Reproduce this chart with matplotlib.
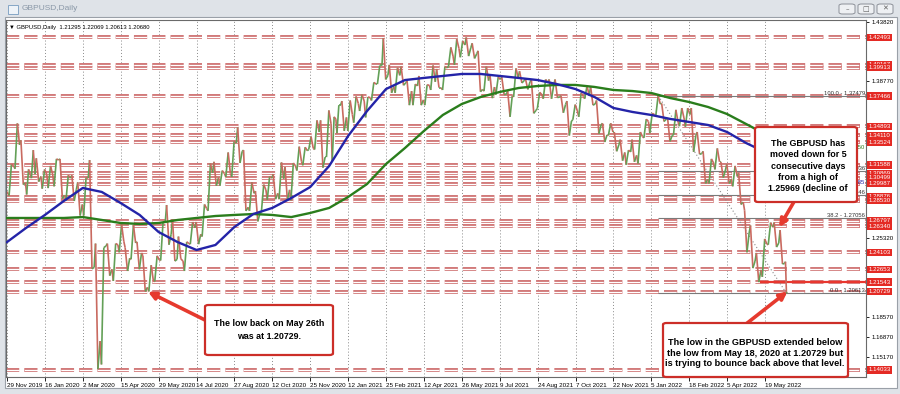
import numpy as np
import pandas as pd
import matplotlib
matplotlib.use('Agg')
import matplotlib.pyplot as plt
from matplotlib.patches import FancyBboxPatch, Rectangle
from matplotlib.collections import LineCollection

plt.rcParams['font.family'] = ['Liberation Sans', 'DejaVu Sans']

# trading calendar of the chart (weekdays, no Christmas / New Year bars)
bars = pd.bdate_range('2019-11-29', '2022-06-14')
bars = bars[~(((bars.month == 12) & (bars.day == 25)) | ((bars.month == 1) & (bars.day == 1)))]

first_close = 1.2930
week_start = pd.date_range('2019-12-02', periods=133, freq='7D')
wk_high = [1.3165, 1.3514, 1.3370, 1.3120, 1.3285, 1.3215, 1.3120, 1.3150, 1.3210, 1.3210,
           1.3070, 1.3070, 1.3010, 1.3050, 1.3200, 1.2485, 1.2450, 1.2485, 1.2485, 1.2650,
           1.2450, 1.2645, 1.2500, 1.2380, 1.2300, 1.2380, 1.2670, 1.2815, 1.2690, 1.2545,
           1.2500, 1.2670, 1.2670, 1.2820, 1.3170, 1.3185, 1.3110, 1.3265, 1.3360, 1.3480,
           1.3285, 1.3010, 1.2935, 1.2990, 1.3060, 1.3080, 1.3180, 1.3140, 1.3175, 1.3315,
           1.3310, 1.3400, 1.3540, 1.3540, 1.3625, 1.3570, 1.3670, 1.3705, 1.3710, 1.3745,
           1.3760, 1.3740, 1.3865, 1.4010, 1.4245, 1.4015, 1.3990, 1.4000, 1.3880, 1.3850,
           1.3920, 1.3845, 1.4010, 1.3980, 1.4000, 1.4165, 1.4235, 1.4220, 1.4250, 1.4200,
           1.4135, 1.4000, 1.3935, 1.3910, 1.3910, 1.3790, 1.3985, 1.3960, 1.3895, 1.3890,
           1.3780, 1.3890, 1.3890, 1.3890, 1.3750, 1.3705, 1.3675, 1.3775, 1.3835, 1.3830,
           1.3710, 1.3515, 1.3515, 1.3440, 1.3375, 1.3285, 1.3375, 1.3440, 1.3550, 1.3600,
           1.3750, 1.3685, 1.3560, 1.3630, 1.3645, 1.3645, 1.3645, 1.3440, 1.3275, 1.3210,
           1.3300, 1.3185, 1.3165, 1.3150, 1.3090, 1.2770, 1.2640, 1.2405, 1.2525, 1.2665,
           1.2665, 1.2600, 1.2330]
wk_low = [1.2895, 1.3125, 1.2990, 1.2905, 1.3045, 1.3015, 1.2955, 1.2960, 1.2975, 1.2870,
          1.2850, 1.2850, 1.2725, 1.2725, 1.2270, 1.1410, 1.1450, 1.2210, 1.2165, 1.2410,
          1.2250, 1.2350, 1.2265, 1.2075, 1.2075, 1.2160, 1.2340, 1.2475, 1.2335, 1.2355,
          1.2250, 1.2480, 1.2480, 1.2545, 1.2765, 1.2980, 1.2980, 1.3055, 1.3055, 1.3175,
          1.2765, 1.2765, 1.2675, 1.2750, 1.2860, 1.2865, 1.2865, 1.2855, 1.2855, 1.3110,
          1.3155, 1.3290, 1.3290, 1.3135, 1.3225, 1.3190, 1.3430, 1.3450, 1.3450, 1.3520,
          1.3620, 1.3565, 1.3710, 1.3850, 1.3890, 1.3775, 1.3775, 1.3840, 1.3670, 1.3670,
          1.3670, 1.3670, 1.3800, 1.3820, 1.3800, 1.4000, 1.4015, 1.4080, 1.4090, 1.4070,
          1.3785, 1.3790, 1.3730, 1.3760, 1.3760, 1.3570, 1.3740, 1.3860, 1.3805, 1.3600,
          1.3640, 1.3725, 1.3725, 1.3735, 1.3605, 1.3410, 1.3545, 1.3570, 1.3725, 1.3670,
          1.3425, 1.3355, 1.3410, 1.3275, 1.3195, 1.3160, 1.3185, 1.3170, 1.3390, 1.3430,
          1.3575, 1.3530, 1.3360, 1.3415, 1.3490, 1.3485, 1.3270, 1.3250, 1.3000, 1.3000,
          1.3120, 1.3050, 1.3000, 1.2975, 1.2820, 1.2410, 1.2275, 1.2155, 1.2200, 1.2475,
          1.2455, 1.2310, 1.2061]
wk_close = [1.3150, 1.3330, 1.3005, 1.3075, 1.3080, 1.3060, 1.3075, 1.3075, 1.3200, 1.2900,
            1.3045, 1.2950, 1.2820, 1.3045, 1.2280, 1.1650, 1.2465, 1.2265, 1.2475, 1.2505,
            1.2360, 1.2490, 1.2405, 1.2110, 1.2165, 1.2345, 1.2665, 1.2565, 1.2350, 1.2335,
            1.2485, 1.2620, 1.2565, 1.2785, 1.3090, 1.3050, 1.3085, 1.3085, 1.3345, 1.3275,
            1.2795, 1.2915, 1.2745, 1.2945, 1.3045, 1.2915, 1.3040, 1.2945, 1.3150, 1.3190,
            1.3280, 1.3300, 1.3440, 1.3225, 1.3510, 1.3550, 1.3670, 1.3565, 1.3590, 1.3685,
            1.3705, 1.3735, 1.3850, 1.4010, 1.3925, 1.3830, 1.3925, 1.3860, 1.3790, 1.3835,
            1.3715, 1.3840, 1.3870, 1.3820, 1.3990, 1.4090, 1.4155, 1.4185, 1.4160, 1.4110,
            1.3805, 1.3880, 1.3825, 1.3890, 1.3765, 1.3750, 1.3905, 1.3880, 1.3870, 1.3625,
            1.3760, 1.3865, 1.3840, 1.3740, 1.3675, 1.3535, 1.3620, 1.3745, 1.3750, 1.3680,
            1.3500, 1.3415, 1.3440, 1.3330, 1.3265, 1.3270, 1.3240, 1.3400, 1.3530, 1.3590,
            1.3680, 1.3550, 1.3410, 1.3525, 1.3560, 1.3590, 1.3410, 1.3255, 1.3035, 1.3175,
            1.3185, 1.3115, 1.3035, 1.3060, 1.2840, 1.2575, 1.2335, 1.2260, 1.2480, 1.2625,
            1.2490, 1.2315, 1.2068]

# moving averages read every 16 bars
ma_blue = [1.2498, 1.2618, 1.2730, 1.2850, 1.2961, 1.2927, 1.2832, 1.2730, 1.2584, 1.2498,
           1.2430, 1.2473, 1.2627, 1.2738, 1.2790, 1.2875, 1.2969, 1.3149, 1.3406, 1.3620,
           1.3808, 1.3885, 1.3903, 1.3920, 1.3937, 1.3937, 1.3920, 1.3903, 1.3885, 1.3851,
           1.3808, 1.3740, 1.3646, 1.3612, 1.3586, 1.3552, 1.3526, 1.3500, 1.3440, 1.3346,
           1.3269, 1.3200]
ma_green = [1.2704, 1.2704, 1.2704, 1.2704, 1.2712, 1.2687, 1.2661, 1.2653, 1.2661, 1.2687,
            1.2704, 1.2721, 1.2730, 1.2738, 1.2730, 1.2712, 1.2747, 1.2790, 1.2884, 1.2995,
            1.3166, 1.3303, 1.3449, 1.3586, 1.3680, 1.3740, 1.3783, 1.3817, 1.3834, 1.3843,
            1.3843, 1.3826, 1.3800, 1.3791, 1.3774, 1.3731, 1.3697, 1.3654, 1.3594, 1.3509,
            1.3423, 1.3355]

red_levels = [1.42493, 1.40167, 1.39913, 1.37466, 1.34893, 1.34110, 1.33524, 1.31588, 1.30869,
              1.30499, 1.29987, 1.28876, 1.28530, 1.26797, 1.26340, 1.24103, 1.22653, 1.21543,
              1.20729, 1.14033]
support_level = 1.21543
support_from = '2022-05-13'
fib_pct = [100.0, 61.8, 50.0, 38.2, 0.0]
fib_price = [1.37479, 1.31036, 1.29046, 1.27056, 1.20613]
fib_from = '2022-01-13'
ma_tags = [('1.33050', '#2e7d1e'), ('1.30085', '#2525a8')]

price_ticks = [1.43820, 1.42120, 1.40420, 1.38770, 1.37120, 1.35420, 1.33720, 1.32020, 1.30370,
               1.28670, 1.26970, 1.25320, 1.23620, 1.21920, 1.20220, 1.18570, 1.16870, 1.15170,
               1.13520]
tick_dates = ['2019-11-29', '2020-01-16', '2020-03-02', '2020-04-15', '2020-05-29', '2020-07-14',
              '2020-08-27', '2020-10-12', '2020-11-25', '2021-01-12', '2021-02-25', '2021-04-12',
              '2021-05-26', '2021-07-09', '2021-08-24', '2021-10-07', '2021-11-22', '2022-01-05',
              '2022-02-18', '2022-04-05', '2022-05-19']

ohlc_info = 'GBPUSD,Daily  1.21295 1.22069 1.20613 1.20680'
note_top = 'The GBPUSD has\nmoved down for 5\nconsecutive days\nfrom a high of\n1.25969 (decline of'
note_left = 'The low back on May 26th\nwas at 1.20729.'
note_bottom = ('The low in the GBPUSD extended below\nthe low from May 18, 2020 at 1.20729 but\n'
               'is trying to bounce back above that level.')


def pos(d):
    return int(bars.searchsorted(pd.Timestamp(d)))


W, H = 900, 394
PX_PER_PRICE = 1168


def fig_xy(x, y):
    return x / W, 1 - y / H


fig = plt.figure(figsize=(9, 3.94), dpi=100, facecolor='#dfe3e8')

# chart window
fig.add_artist(Rectangle(fig_xy(5, 388), 892 / W, 371 / H, transform=fig.transFigure,
                         fc='white', ec='#9aa0a8', lw=0.8, zorder=-1))
fig.add_artist(Rectangle(fig_xy(8, 14), 10 / W, 9 / H, transform=fig.transFigure,
                         fc='#eef3f8', ec='#86a6c6', lw=0.7, zorder=-1))
fig.text(22 / W, 1 - 9 / H, 'GBPUSD,Daily', fontsize=6, color='#8a98a8', va='center')
for bx, glyph in [(839, '\u2013'), (858, '\u25a1'), (877, '\u2715')]:
    fig.add_artist(FancyBboxPatch(fig_xy(bx, 14), 16 / W, 10 / H, transform=fig.transFigure,
                                  boxstyle='round,pad=0,rounding_size=0.004',
                                  fc='#eef0f3', ec='#8c9098', lw=0.7, zorder=-1))
    fig.text((bx + 8) / W, 1 - 9 / H, glyph, fontsize=5, color='#606060',
             ha='center', va='center', family=['DejaVu Sans'])

ax = fig.add_axes([6 / W, 1 - 377 / H, 860 / W, 357 / H])
ax.set_facecolor('white')
px_per_bar = 758 / 640
ax.set_xlim(-1 / px_per_bar, 859 / px_per_bar)
ax.set_ylim(1.4382 - 355 / PX_PER_PRICE, 1.4382 + 2 / PX_PER_PRICE)
x_right = 859 / px_per_bar

# horizontal support / resistance levels (double dashed)
for lv in red_levels:
    ax.axhline(lv, color='#d07474', lw=2.8, ls=(0, (3.4, 1.3)), zorder=1)
    ax.axhline(lv, color='white', lw=0.9, ls=(0, (10.6, 4.0)), zorder=1.1)
ax.hlines(support_level, pos(support_from), x_right, color='#e8372f', lw=1.6, zorder=2.2)

# fibonacci retracement
f0 = pos(fib_from)
last = len(bars) - 1
ax.hlines(fib_price, f0, x_right, color='#7a7a7a', lw=0.8, zorder=1.5)
ax.plot([f0, last], [fib_price[0], fib_price[-1]], color='#8a8a8a', lw=0.8,
        ls=(0, (1, 2)), zorder=1.5)
for pct, pr in zip(fib_pct, fib_price):
    ax.text(0.999, pr, f'{pct:.1f} - {pr:.5f}', transform=ax.get_yaxis_transform(),
            ha='right', va='bottom', fontsize=4.2, color='#333333', zorder=2)
for (tag, col) in ma_tags:
    ax.text(0.999, float(tag), tag, transform=ax.get_yaxis_transform(), ha='right',
            va='center', fontsize=4.2, color=col, zorder=2)

# price path from weekly high / low / close
starts = [pos(d) for d in week_start] + [len(bars)]
xs, ys = [0.0], [first_close]
prev = first_close
for i, (h, l, c) in enumerate(zip(wk_high, wk_low, wk_close)):
    p, n = starts[i], max(starts[i + 1] - starts[i], 1)
    a, b = (l, h) if c >= prev else (h, l)
    xs += [p + 0.15 * n, p + 0.55 * n, p + 0.92 * n]
    ys += [a, b, c]
    prev = c
pts = np.column_stack([xs, ys])
segs = np.stack([pts[:-1], pts[1:]], axis=1)
cols = np.where(np.diff(ys) >= 0, '#63a057', '#c96a60')
ax.add_collection(LineCollection(segs, colors=cols, linewidths=1.2, zorder=2.5))

# moving averages
ma_x = np.arange(len(ma_blue)) * 16
ax.plot(ma_x, ma_green, color='#2a7d1c', lw=1.7, zorder=2.6)
ax.plot(ma_x, ma_blue, color='#2424a8', lw=1.7, zorder=2.7)

# axes styling; price ticks hidden behind a level label are left out
ax.grid(axis='x', color='#8a8a8a', lw=0.7, ls=(0, (1, 2.2)))
ax.set_axisbelow(True)
ax.yaxis.tick_right()
shown_ticks = [t for t in price_ticks
               if min(abs(t - lv) for lv in red_levels) * PX_PER_PRICE >= 8.5]
ax.set_yticks(shown_ticks)
ax.set_yticklabels([f'{v:.5f}' for v in shown_ticks], fontsize=4.4)
ax.tick_params(axis='y', length=2.5, width=0.6, pad=1.5)
xt = [pos(d) for d in tick_dates]
xl = [f'{pd.Timestamp(d).day} {pd.Timestamp(d).strftime("%b %Y")}' for d in tick_dates]
ax.set_xticks(xt)
ax.set_xticklabels(xl, fontsize=4.5, ha='left')
ax.tick_params(axis='x', length=3, width=0.6, pad=1.5)
for s in ax.spines.values():
    s.set_color('#6a6a6a')
    s.set_linewidth(0.8)

for lv in red_levels:
    ax.text(1.003, lv, f'{lv:.5f}', transform=ax.get_yaxis_transform(), fontsize=4.4,
            color='white', ha='left', va='center', zorder=5, clip_on=False,
            bbox=dict(boxstyle='square,pad=0.2', fc='#e42a24', ec='none'))

ax.text(0.004, 0.985, '\u25bc ' + ohlc_info, transform=ax.transAxes, fontsize=4.2,
        ha='left', va='top', color='black', family=['Liberation Sans', 'DejaVu Sans'])


# annotation boxes
def note_box(x0, y0, x1, y1, text, cx, cy, size, spacing):
    fig.add_artist(FancyBboxPatch(fig_xy(x0, y1), (x1 - x0) / W, (y1 - y0) / H,
                                  transform=fig.transFigure,
                                  boxstyle='round,pad=0,rounding_size=0.004',
                                  fc='white', ec='#cc2e28', lw=1.6, zorder=5))
    fig.text(cx / W, 1 - cy / H, text, ha='center', va='center', fontsize=size,
             weight='bold', linespacing=spacing, zorder=6)


arrow = dict(arrowstyle='-|>', color='#e63a2e', lw=2.6, mutation_scale=11, shrinkA=0, shrinkB=0)
ax.annotate('', xy=(pos('2020-05-18'), 1.20729), xytext=(207, H - 321),
            textcoords='figure pixels', arrowprops=arrow, zorder=4)
ax.annotate('', xy=(pos('2022-06-07') - 1, 1.2625), xytext=(795, H - 200),
            textcoords='figure pixels', arrowprops=arrow, zorder=4)
ax.annotate('', xy=(last + 1, 1.2075), xytext=(746, H - 324),
            textcoords='figure pixels', arrowprops=arrow, zorder=4)

note_box(205, 305, 333, 355, note_left, 269, 330, 6.4, 1.5)
note_box(755, 127, 857, 202, note_top, 808, 166, 6.4, 1.35)
note_box(663, 323, 848, 377, note_bottom, 755, 353, 6.6, 1.2)

fig.savefig('out.png', dpi=100, facecolor=fig.get_facecolor())
